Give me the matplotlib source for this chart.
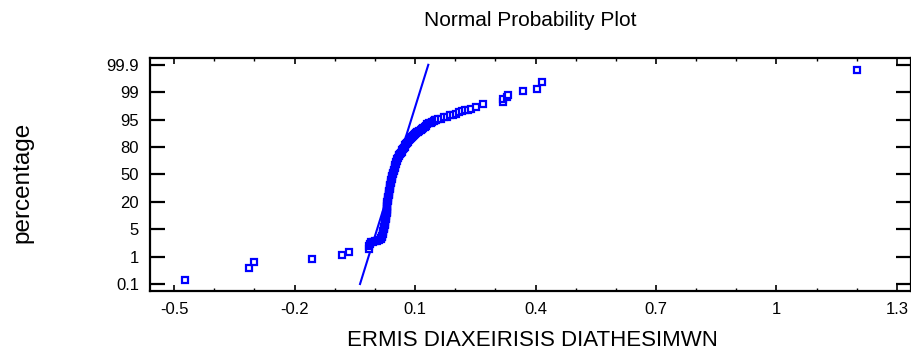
import numpy as np
import matplotlib
matplotlib.use("Agg")
from matplotlib import pyplot as plt
from matplotlib.ticker import MultipleLocator

# percentage tick labels of the probability axis (equally spaced in the chart)
prob_ticks = [0.1, 1, 5, 20, 50, 80, 95, 99, 99.9]
prob_labels = ['0.1', '1', '5', '20', '50', '80', '95', '99', '99.9']

# sorted observations and their cumulative percentage
values = [-0.4726, -0.314, -0.302, -0.156, -0.082, -0.064,
          -0.0158, -0.0158, -0.0133, -0.0096, -0.0046, 0.0004, 0.0053, 0.0103,
          0.0141, 0.0154, 0.0166, 0.0178, 0.0190, 0.0196, 0.0203, 0.0215,
          0.0228, 0.0234, 0.0240, 0.0246, 0.0253, 0.0259, 0.0265, 0.0271,
          0.0277, 0.0283, 0.0290, 0.0290, 0.0290, 0.0296, 0.0302, 0.0302,
          0.0302, 0.0308, 0.0315, 0.0321, 0.0327, 0.0333, 0.0340, 0.0346,
          0.0352, 0.0358, 0.0365, 0.0371, 0.0377, 0.0383, 0.0390, 0.0396,
          0.0402, 0.0414, 0.0427, 0.0433, 0.0439, 0.0451, 0.0464, 0.0476,
          0.0489, 0.0495, 0.0502, 0.0514, 0.0527, 0.0539, 0.0551, 0.0570,
          0.0589, 0.0607, 0.0626, 0.0644, 0.0663, 0.0682, 0.0701, 0.0719,
          0.0738, 0.0756, 0.0775, 0.0800, 0.0825, 0.0850, 0.0875, 0.0900,
          0.0925, 0.0950, 0.0975, 0.1000, 0.1024, 0.1049, 0.1074, 0.1105,
          0.1136, 0.1168, 0.1199, 0.1236, 0.1273, 0.1310, 0.1348, 0.1385,
          0.1423, 0.1460, 0.1497, 0.1534, 0.1572, 0.1647,
          0.1721, 0.1796, 0.1871, 0.1945, 0.2020, 0.2095, 0.2169, 0.2244,
          0.2319, 0.2393, 0.2518, 0.2685, 0.3178, 0.3190, 0.3290, 0.3315,
          0.3696, 0.4037, 0.4149, 1.2003]
percents = [0.24, 0.62, 0.83, 0.91, 1.28, 1.64,
            2.11, 2.55, 2.91, 3.13, 3.20, 3.28, 3.35, 3.42,
            3.57, 3.71, 3.86, 4.08, 4.30, 4.52, 4.74, 5.20,
            5.66, 6.48, 7.30, 8.12, 8.94, 9.76, 10.58, 11.40,
            12.23, 13.05, 13.87, 14.69, 15.51, 16.33, 17.15, 17.97,
            18.80, 19.84, 20.88, 22.52, 24.16, 25.80, 27.45, 29.09,
            30.73, 32.37, 34.01, 35.65, 37.30, 38.94, 40.58, 42.22,
            43.87, 45.51, 47.15, 48.80, 50.44, 52.08, 53.72, 55.36,
            57.01, 58.65, 60.29, 61.93, 63.58, 65.22, 66.86, 68.50,
            70.15, 71.25, 72.34, 73.70, 75.07, 76.44, 77.81, 79.04,
            80.27, 80.95, 81.64, 82.32, 83.01, 83.70, 84.38, 84.92,
            85.47, 86.02, 86.57, 87.11, 87.66, 88.07, 88.48, 89.03,
            89.58, 90.12, 90.67, 91.22, 91.77, 92.32, 92.87, 93.28,
            93.69, 94.10, 94.51, 94.76, 95.02, 95.16,
            95.31, 95.45, 95.60, 95.74, 95.89, 96.11, 96.26, 96.33,
            96.47, 96.59, 96.88, 97.28, 97.61, 98.01, 98.37, 98.66,
            99.05, 99.12, 99.34, 99.72]

# fitted normal line
fit_x = [-0.037, 0.133]
fit_p = [0.1, 99.9]


def to_pos(p):
    return np.interp(p, prob_ticks, np.arange(len(prob_ticks)))


blue = '#0000ff'

fig = plt.figure(figsize=(9.12, 3.52), dpi=100)
ax = fig.add_axes([150 / 912, 61 / 352, 761 / 912, 233 / 352])

ax.plot(values, to_pos(percents), linestyle='none', marker='s', ms=4.6,
        mfc='white', mec=blue, mew=1.6, zorder=3)
ax.plot(fit_x, to_pos(fit_p), color=blue, lw=1.5, zorder=2)

ax.set_xlim(-0.56, 1.335)
ax.set_ylim(-0.255, 8.248)
ax.xaxis.set_minor_locator(MultipleLocator(0.1))
ax.set_xticks([-0.5, -0.2, 0.1, 0.4, 0.7, 1.0, 1.3])
ax.set_xticklabels(['-0.5', '-0.2', '0.1', '0.4', '0.7', '1', '1.3'])
ax.set_yticks(range(len(prob_ticks)))
ax.set_yticklabels(prob_labels)

for s in ax.spines.values():
    s.set_linewidth(1.6)
ax.tick_params(axis='x', which='major', direction='in', top=True, length=4,
               width=1.2, pad=8, labelsize=12)
ax.tick_params(axis='x', which='minor', direction='in', top=True, length=2.5,
               width=1.0)
ax.tick_params(axis='y', which='major', direction='in', right=True, length=11,
               width=1.6, pad=8, labelsize=12)
for lab in ax.get_xticklabels() + ax.get_yticklabels():
    lab.set_family('Liberation Sans')

fig.text(530 / 912, 1 - 20 / 352, 'Normal Probability Plot', ha='center',
         va='center', fontsize=15, family='Liberation Sans')
fig.text(532 / 912, 1 - 340 / 352, 'ERMIS DIAXEIRISIS DIATHESIMWN', ha='center',
         va='center', fontsize=16, family='Liberation Sans')
fig.text(22 / 912, 1 - 182 / 352, 'percentage', ha='center', va='center',
         rotation=90, fontsize=17.5, family='Liberation Sans')

plt.savefig('out.png', dpi=100)
